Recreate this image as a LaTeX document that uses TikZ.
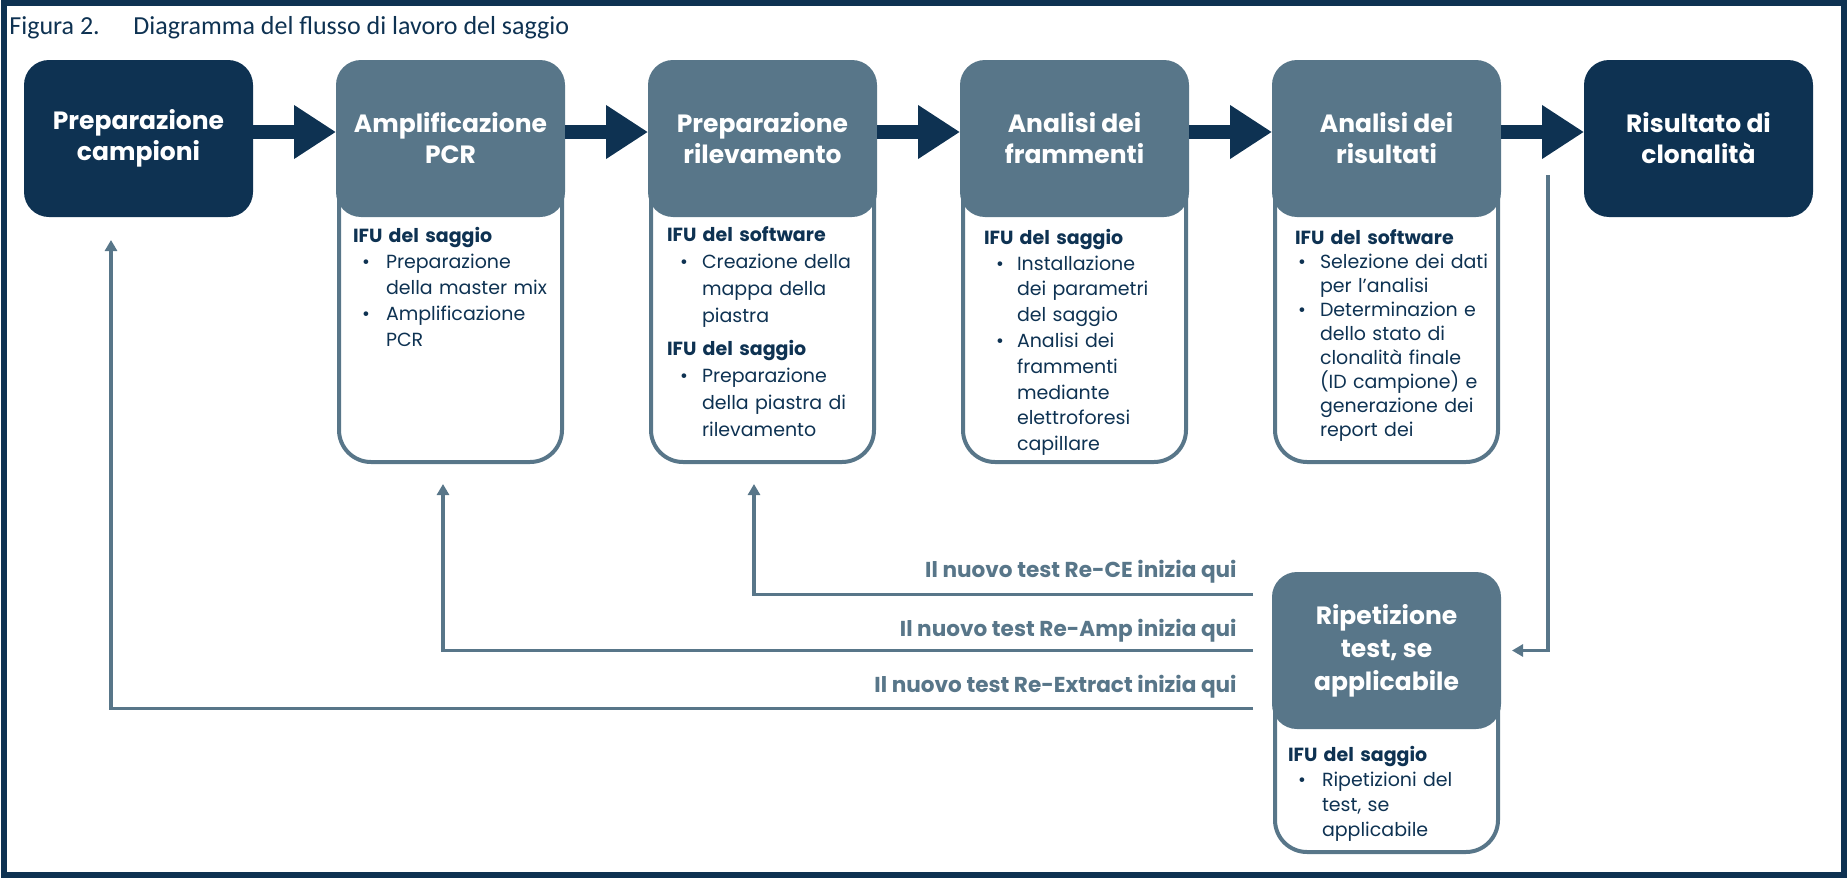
\documentclass[tikz,border=0pt]{standalone}
\usepackage{fontspec}
\setmainfont{Poppins}
\newfontfamily\captionfont{Carlito}
\usepackage{xcolor}
\usepackage{tikz}
\usetikzlibrary{positioning, arrows.meta}
\definecolor{navy}{RGB}{14,50,82}
\definecolor{slate}{RGB}{88,118,137}
\tikzstyle{stage} = [rectangle, rounded corners=12.5pt, minimum width=114.5pt, minimum height=78.5pt, inner sep=0pt, outer sep=0pt, fill=slate, text=white, align=center, font={\fontsize{12.5}{15.5}\selectfont\bfseries}]
\tikzstyle{ends} = [stage, fill=navy]
\tikzstyle{outline} = [rectangle, rounded corners=16pt, minimum width=111.5pt, draw=slate, line width=2pt, inner sep=0pt, outer sep=0pt, anchor=north]
\tikzstyle{note} = [anchor=north west, inner sep=0pt, outer sep=0pt, text width=104pt, text=navy, font={\fontsize{9.5}{13}\selectfont}]
\tikzstyle{flow} = [navy, line width=7pt, -{Triangle[length=21pt, width=25.5pt]}]
\tikzstyle{back} = [slate, line width=1.6pt, -{Triangle[length=5.5pt, width=6pt]}]
\tikzstyle{lbl} = [anchor=base east, inner sep=0pt, text=slate, font={\fontsize{10.8}{12}\selectfont\bfseries}]
\newenvironment{ifulist}[2]{\begin{list}{\textbullet}{\setlength{\leftmargin}{#1}\setlength{\labelsep}{#2}%
  \setlength{\labelwidth}{\dimexpr#1-#2\relax}\setlength{\itemsep}{0pt}\setlength{\parsep}{0pt}%
  \setlength{\topsep}{0pt}\setlength{\partopsep}{0pt}}}{\end{list}}

\begin{document}
\begin{tikzpicture}[x=0.5pt, y=-0.5pt]
		\useasboundingbox (0,0) rectangle (1848,878);
		\draw [navy, line width=3pt] (4,3) rectangle (1844,875);
		\node (Figura)[anchor=base west, inner sep=0pt, text=navy, font={\captionfont\fontsize{13}{15}\selectfont}] at (9,34) {Figura 2.};
		\node (Titolo)[anchor=base west, inner sep=0pt, text=navy, font={\captionfont\fontsize{13}{15}\selectfont}] at (133,34) {Diagramma del flusso di lavoro del saggio};

		\node (Preparazione)[ends] at (138.5,138.5) {Preparazione\\campioni};
		\node (Amplificazione)[stage, right = 41.5pt of Preparazione]{Amplificazione\\PCR};
		\node (Rilevamento)[stage, right = 41.5pt of Amplificazione]{Preparazione\\rilevamento};
		\node (Frammenti)[stage, right = 41.5pt of Rilevamento]{Analisi dei\\frammenti};
		\node (Risultati)[stage, right = 41.5pt of Frammenti]{Analisi dei\\risultati};
		\node (Clonalita)[ends, right = 41.5pt of Risultati]{Risultato di\\clonalit\`a};

		\node (Amplificazione box)[outline, minimum height=196pt] at ([yshift=-5pt]Amplificazione.north) {};
		\node (Rilevamento box)[outline, minimum height=196pt] at ([yshift=-5pt]Rilevamento.north) {};
		\node (Frammenti box)[outline, minimum height=196pt] at ([yshift=-5pt]Frammenti.north) {};
		\node (Risultati box)[outline, minimum height=196pt] at ([yshift=-5pt]Risultati.north) {};

		\node (Ripetizione)[stage, below = 55pt of Risultati box, font={\fontsize{12.5}{16.5}\selectfont\bfseries}]{Ripetizione\\test, se\\applicabile};
		\node (Ripetizione box)[outline, minimum height=135pt] at ([yshift=-5pt]Ripetizione.north) {};

		% testi IFU
		\node (Amplificazione IFU)[note] at ([shift={(8.5pt,-5pt)}]Amplificazione.south west) {
			{\bfseries IFU del saggio}
			\begin{ifulist}{16.5pt}{8pt}
				\item Preparazione\\della master mix
				\item Amplificazione\\PCR
			\end{ifulist}};
		\node (Rilevamento IFU)[note, font={\fontsize{9.5}{13.5}\selectfont}] at ([shift={(9.5pt,-5pt)}]Rilevamento.south west) {
			{\bfseries IFU del software}
			\begin{ifulist}{17.5pt}{7pt}
				\item Creazione della\\mappa della\\piastra
			\end{ifulist}
			\vspace{3pt}
			{\bfseries IFU del saggio}
			\begin{ifulist}{17.5pt}{7pt}
				\item Preparazione\\della piastra di\\rilevamento
			\end{ifulist}};
		\node (Frammenti IFU)[note, font={\fontsize{9.5}{12.9}\selectfont}] at ([shift={(12pt,-6pt)}]Frammenti.south west) {
			{\bfseries IFU del saggio}
			\begin{ifulist}{16.5pt}{6.5pt}
				\item Installazione\\dei parametri\\del saggio
				\item Analisi dei\\frammenti\\mediante\\elettroforesi\\capillare
			\end{ifulist}};
		\node (Risultati IFU)[note, font={\fontsize{9.5}{12}\selectfont}] at ([shift={(11.5pt,-6.5pt)}]Risultati.south west) {
			{\bfseries IFU del software}
			\begin{ifulist}{12.5pt}{7pt}
				\item Selezione dei dati\\per l'analisi
				\item Determinazion e\\dello stato di\\clonalit\`a finale\\(ID campione) e\\generazione dei\\report dei
			\end{ifulist}};
		\node (Ripetizione IFU)[note, font={\fontsize{9.5}{12.5}\selectfont}] at ([shift={(8pt,-8.5pt)}]Ripetizione.south west) {
			{\bfseries IFU del saggio}
			\begin{ifulist}{17pt}{8pt}
				\item Ripetizioni del\\test, se\\applicabile
			\end{ifulist}};

		\draw [flow] ([yshift=3.25pt]Preparazione.east) -- ([yshift=3.25pt]Amplificazione.west);
		\draw [flow] ([yshift=3.25pt]Amplificazione.east) -- ([yshift=3.25pt]Rilevamento.west);
		\draw [flow] ([yshift=3.25pt]Rilevamento.east) -- ([yshift=3.25pt]Frammenti.west);
		\draw [flow] ([yshift=3.25pt]Frammenti.east) -- ([yshift=3.25pt]Risultati.west);
		\draw [flow] ([yshift=3.25pt]Risultati.east) -- ([yshift=3.25pt]Clonalita.west);

		% ripetizioni
		\coordinate (Ripeti start) at (1548,175);
		\coordinate (CE start) at ([shift={(-9.5pt,28pt)}]Ripetizione.west);
		\coordinate (Amp start) at ([xshift=-9.5pt]Ripetizione.west);
		\coordinate (Extract start) at ([shift={(-9.5pt,-29pt)}]Ripetizione.west);
		\draw [back] (Ripeti start) |- ([xshift=5.5pt]Ripetizione.east);
		\draw [back] (CE start) -| ([xshift=-4.25pt, yshift=-11pt]Rilevamento box.south);
		\draw [back] (Amp start) -| ([xshift=-3.75pt, yshift=-11pt]Amplificazione box.south);
		\draw [back] (Extract start) -| ([xshift=-13.75pt, yshift=-11.5pt]Preparazione.south);
		\node (CE label)[lbl] at ([shift={(-8pt,8.5pt)}]CE start) {Il nuovo test Re-CE inizia qui};
		\node (Amp label)[lbl] at ([shift={(-8pt,7pt)}]Amp start) {Il nuovo test Re-Amp inizia qui};
		\node (Extract label)[lbl] at ([shift={(-8pt,8pt)}]Extract start) {Il nuovo test Re-Extract inizia qui};
	\end{tikzpicture}
\end{document}
